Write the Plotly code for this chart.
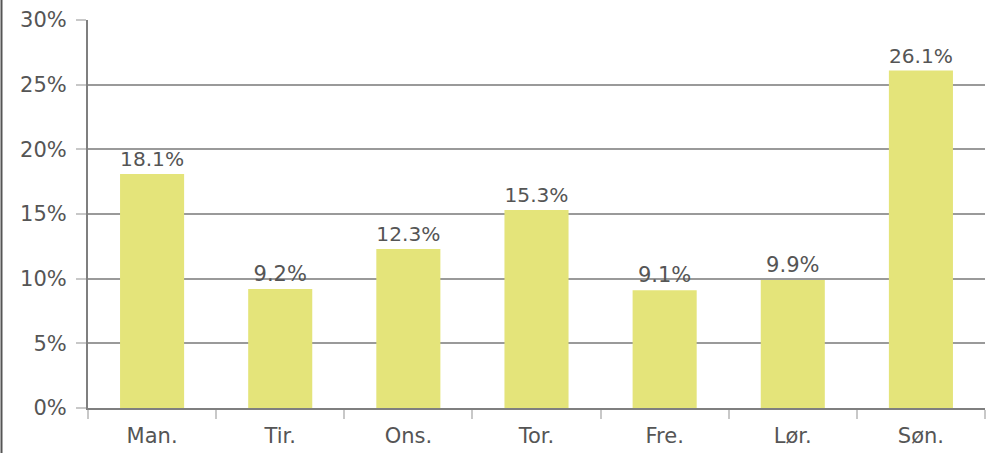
import plotly.graph_objects as go

days = ["Man.", "Tir.", "Ons.", "Tor.", "Fre.", "Lør.", "Søn."]
shares = [18.1, 9.2, 12.3, 15.3, 9.1, 9.9, 26.1]
labels = [f"{v:.1f}%" for v in shares]

W, H = 991, 453
ML, MR, MT, MB = 88, 6, 20, 45
font = "DejaVu Sans"
txt = "#555555"

fig = go.Figure(go.Bar(
    x=days, y=shares, text=labels, textposition="outside",
    textfont=dict(family=font, size=21, color=txt),
    marker=dict(color="#e4e47a", line=dict(width=0)),
    width=0.5, cliponaxis=False,
))

fig.update_layout(
    width=W, height=H,
    margin=dict(l=ML, r=MR, t=MT, b=MB, autoexpand=False),
    paper_bgcolor="white", plot_bgcolor="white",
    showlegend=False,
    bargap=0.5,
    xaxis=dict(
        automargin=False,
        showline=True, linecolor="#7f7f7f", linewidth=2,
        ticks="outside", tickson="boundaries", ticklen=9, tickcolor="#c8c8c8", tickwidth=2,
        tickfont=dict(family=font, size=21, color=txt),
        ticklabelstandoff=8,
        showgrid=False,
    ),
    yaxis=dict(
        automargin=False,
        range=[0, 30], dtick=5, ticksuffix="%",
        showline=True, linecolor="#7f7f7f", linewidth=2,
        ticks="outside", ticklen=10, tickcolor="#c8c8c8", tickwidth=2,
        tickfont=dict(family=font, size=21, color=txt),
        ticklabelstandoff=5,
        showgrid=True, gridcolor="#9a9a9a", gridwidth=2,
        zeroline=False,
    ),
)

pw = W - ML - MR
fig.add_shape(type="line", xref="paper", yref="paper",
              x0=(1.5 - ML) / pw, x1=(1.5 - ML) / pw,
              y0=-MB / (H - MT - MB), y1=1 + MT / (H - MT - MB),
              line=dict(color="#555555", width=2))

fig.write_html("out.html", config={"displayModeBar": False},
               post_script="document.body.style.margin='0';document.body.style.padding='0';")
